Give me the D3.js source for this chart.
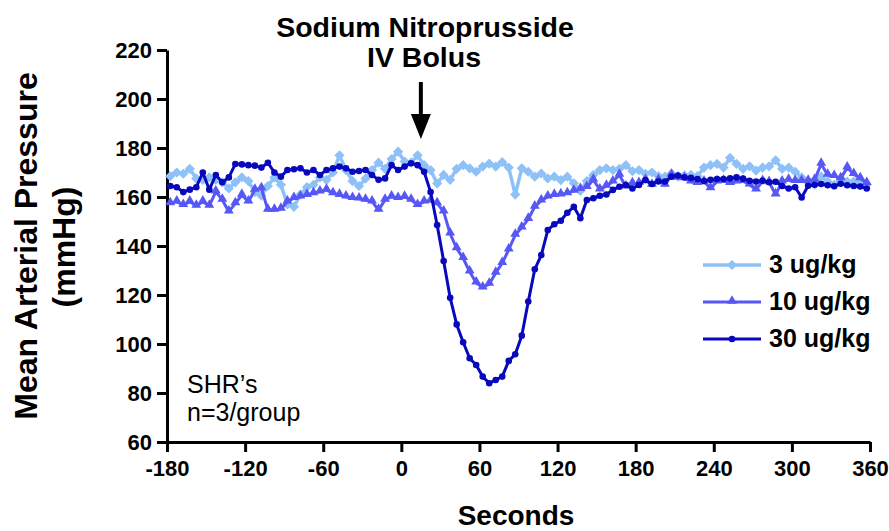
<!DOCTYPE html>
<html>
<head>
<meta charset="utf-8">
<script src="https://cdn.jsdelivr.net/npm/d3@7"></script>
<style>
  body { margin: 0; background: white; }
  svg text { font-family: "Liberation Sans", Arial, sans-serif; }
</style>
</head>
<body>
<div class="plot1"></div>
<script>

// sample times (seconds)
var times = [-177.5,-172.5,-167.5,-162.5,-157.5,-152.5,-147.5,-142.5,-137.5,-132.5,
  -127.5,-122.5,-117.5,-112.5,-107.5,-102.5,-97.5,-92.5,-87.5,-82.5,
  -77.5,-72.5,-67.5,-62.5,-57.5,-52.5,-47.5,-42.5,-37.5,-32.5,
  -27.5,-22.5,-17.5,-12.5,-7.5,-2.5,2.5,7.5,12.5,17.5,
  22.5,27.5,32.5,37.5,42.5,47.5,52.5,57.5,62.5,67.5,
  72.5,77.5,82.5,87.5,92.5,97.5,102.5,107.5,112.5,117.5,
  122.5,127.5,132.5,137.5,142.5,147.5,152.5,157.5,162.5,167.5,
  172.5,177.5,182.5,187.5,192.5,197.5,202.5,207.5,212.5,217.5,
  222.5,227.5,232.5,237.5,242.5,247.5,252.5,257.5,262.5,267.5,
  272.5,277.5,282.5,287.5,292.5,297.5,302.5,307.5,312.5,317.5,
  322.5,327.5,332.5,337.5,342.5,347.5,352.5,357.5];

var map3 = [168.5,170,169.5,171.5,167.5,167,168,167,166,163.5,
  166,168,166.5,162,160.5,164.5,168,165,157,156,
  161,164,165,168,167,170,177,171,166.5,164.5,
  167.5,171,174,171.5,175.5,178.5,174.5,174,177,173,
  171,165.5,169,167,171.5,173,171.7,170.3,172.4,173.6,
  172.4,174.2,172,161,171.7,170.3,168.3,169.6,167.6,168.3,
  166.9,168.3,165.6,162.5,166.5,169,171,171.7,171,171.5,
  173,170.5,171,169.5,170,168.5,168.3,169.6,168.3,168.8,
  169,168.5,172,173,173.5,172,176,173.5,171.5,172.5,
  170.8,172,172.5,175,171.5,172,170.3,168,166,165,
  168.3,166.3,165,167.6,166.3,166.3,165.6,165];

var map10 = [157.4,158.1,156.7,158.1,156.4,158.1,156.4,162.2,158.8,154,
  157.4,160.8,158.1,162.9,163.5,154.7,154.7,155.1,158.1,159.5,
  160.1,160.8,161.5,162.2,162.9,161.5,160.8,160.1,159.5,159.3,
  158.8,158.1,154.7,158.8,160.1,159.5,160,158.8,156.7,158.1,
  158.5,157.4,154,145,139,135,129.5,125,123,124.5,
  129,133,138.5,144.5,147.5,151,156,158.5,160.1,160.8,
  161,161.5,162.5,163.2,164,167,163,164.5,166.3,169,
  164.2,165.5,165.6,166.9,164.9,166.9,164.9,169,167.8,167.6,
  166.3,165.6,166.3,163.5,166.3,166.6,165.6,166.3,166.5,165,
  163,166.5,166,161,166.3,167,166.5,166.5,166.6,167,
  173.5,169,168.5,167.6,172,169.3,167.6,165.6];

var map30 = [164.5,164,162,163,164,170,163,169,166,168,
  173.5,173.3,173,172.8,172,174,170,168.3,171,171.3,
  171.7,170,171,169,171,171.7,172.4,171.7,170.3,170.6,
  171,169,167,167.6,173,171,172.4,173.8,173,170.3,
  162,148.6,133.9,118.9,108,100.7,94.2,91.4,86.7,84,
  85.3,86.7,93.1,95.8,103.4,117.3,130.5,136.3,146.5,148.9,
  150.3,153.6,156,151.3,158.8,159.5,160.5,161,162.9,164.2,
  164.9,163.5,164.9,166.9,165.3,166.3,166.3,168.3,168.8,168,
  167.8,167.3,166.5,167,167.3,167.3,167.6,168,167.5,166.6,
  166.3,166.6,166,166.2,164.5,163.5,164,159.8,164.6,165,
  165.3,164.8,164.4,165.4,164.8,164.5,164.3,163.5];

var seriesNames = ["3 ug/kg", "10 ug/kg", "30 ug/kg"];
var seriesColors = ["#8ec1f7", "#5757f5", "#0808bd"];
var xTicks = [-180, -120, -60, 0, 60, 120, 180, 240, 300, 360];
var yTicks = [60, 80, 100, 120, 140, 160, 180, 200, 220];

function plotMAP() {

  var width = 889;
  var height = 531;

  var svg = d3.select(".plot1")
    .append("svg")
    .attr("width", width)
    .attr("height", height);

  var x = d3.scaleLinear().domain([-180, 360]).range([167, 870]);
  var y = d3.scaleLinear().domain([60, 220]).range([442, 50]);

  // axes (plain hyphen for negatives, like the original)
  var xAxis = svg.append("g")
    .attr("transform", "translate(0,442)")
    .call(d3.axisBottom(x).tickValues(xTicks).tickFormat(function(d) { return String(d); })
      .tickSize(10).tickSizeOuter(0).tickPadding(8));

  var yAxis = svg.append("g")
    .attr("transform", "translate(167,0)")
    .call(d3.axisLeft(y).tickValues(yTicks).tickFormat(function(d) { return String(d); })
      .tickSize(10).tickSizeOuter(0).tickPadding(5));

  [xAxis, yAxis].forEach(function(a) {
    a.select(".domain").attr("stroke", "black").attr("stroke-width", 3);
    a.selectAll(".tick line").attr("stroke", "black").attr("stroke-width", 3);
    a.selectAll(".tick text")
      .attr("fill", "black")
      .style("font-size", "22px")
      .style("font-weight", "bold");
  });

  var series = [map3, map10, map30];
  var widths = [3.5, 3, 3];

  var line = d3.line()
    .x(function(d) { return x(d[0]); })
    .y(function(d) { return y(d[1]); });

  var diamond = d3.symbol().type(d3.symbolSquare).size(52);
  var triangle = d3.symbol().type(d3.symbolTriangle).size(42);

  function drawMarker(g, i, cx, cy) {
    if (i == 0) {
      g.append("path").attr("d", diamond())
        .attr("transform", "translate(" + cx + "," + cy + ") rotate(45)")
        .attr("fill", seriesColors[i]);
    } else if (i == 1) {
      g.append("path").attr("d", triangle())
        .attr("transform", "translate(" + cx + "," + (cy - 1) + ")")
        .attr("fill", seriesColors[i]);
    } else {
      g.append("circle").attr("cx", cx).attr("cy", cy).attr("r", 3.3)
        .attr("fill", seriesColors[i]);
    }
  }

  series.forEach(function(vals, i) {
    var pts = times.map(function(t, k) { return [t, vals[k]]; });
    var g = svg.append("g");
    g.append("path")
      .datum(pts)
      .attr("fill", "none")
      .attr("stroke", seriesColors[i])
      .attr("stroke-width", widths[i])
      .attr("stroke-linejoin", "round")
      .attr("d", line);
    pts.forEach(function(p) {
      drawMarker(g, i, x(p[0]), y(p[1]));
    });
  });

  // legend
  var legend = svg.append("g");
  seriesNames.forEach(function(name, i) {
    var ly = 265 + i * 37;
    legend.append("line")
      .attr("x1", 703).attr("x2", 761)
      .attr("y1", ly).attr("y2", ly)
      .attr("stroke", seriesColors[i])
      .attr("stroke-width", widths[i]);
    drawMarker(legend, i, 732, ly);
    legend.append("text")
      .attr("x", 769).attr("y", ly + 8)
      .style("font-size", "25px")
      .style("font-weight", "bold")
      .text(name);
  });

  // titles
  svg.append("text")
    .attr("x", 425).attr("y", 37)
    .attr("text-anchor", "middle")
    .style("font-size", "28.5px").style("font-weight", "bold")
    .text("Sodium Nitroprusside");
  svg.append("text")
    .attr("x", 424).attr("y", 67)
    .attr("text-anchor", "middle")
    .style("font-size", "28.5px").style("font-weight", "bold")
    .text("IV Bolus");

  // arrow
  svg.append("line")
    .attr("x1", x(15)).attr("x2", x(15))
    .attr("y1", 82).attr("y2", 118)
    .attr("stroke", "black").attr("stroke-width", 4);
  svg.append("path")
    .attr("d", "M" + (x(15) - 10) + ",114 L" + (x(15) + 10) + ",114 L" + x(15) + ",139 Z")
    .attr("fill", "black");

  // axis titles
  svg.append("text")
    .attr("x", 516).attr("y", 525)
    .attr("text-anchor", "middle")
    .style("font-size", "28px").style("font-weight", "bold")
    .text("Seconds");

  svg.append("text")
    .attr("transform", "translate(37,246) rotate(-90)")
    .attr("text-anchor", "middle")
    .style("font-size", "32px").style("font-weight", "bold")
    .text("Mean Arterial Pressure");
  svg.append("text")
    .attr("transform", "translate(75,247) rotate(-90)")
    .attr("text-anchor", "middle")
    .style("font-size", "32px").style("font-weight", "bold")
    .text("(mmHg)");

  // annotation
  svg.append("text")
    .attr("x", 187).attr("y", 393)
    .style("font-size", "25px")
    .text("SHR\u2019s");
  svg.append("text")
    .attr("x", 187).attr("y", 421)
    .style("font-size", "25px")
    .text("n=3/group");
}

plotMAP();
</script>
</body>
</html>
